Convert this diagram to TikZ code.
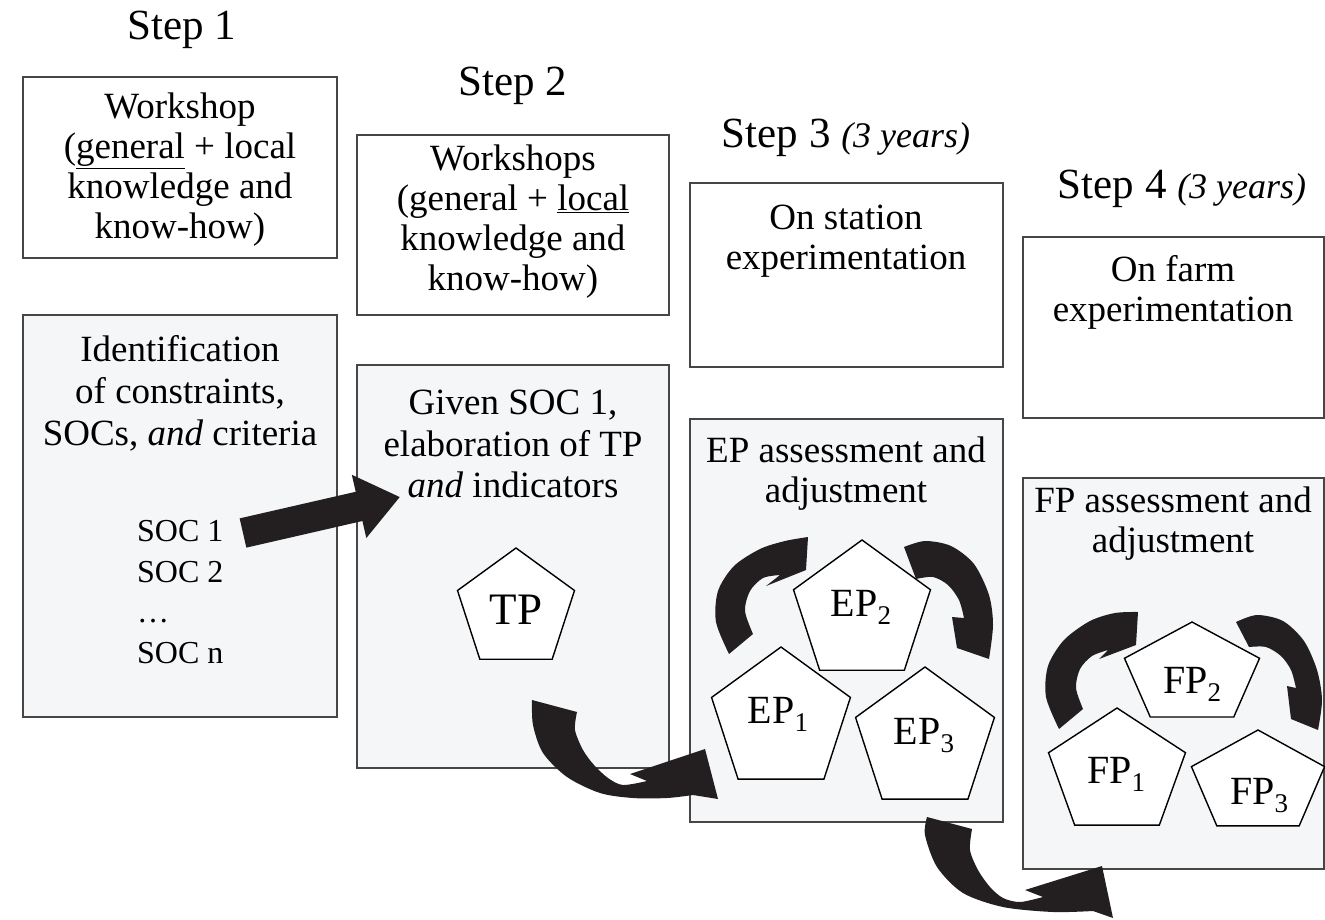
\documentclass[tikz,border=0pt]{standalone}
\usepackage{fontspec}
\setmainfont{Liberation Serif}
\usetikzlibrary{arrows.meta}
\definecolor{boxfill}{RGB}{244,246,248}
\definecolor{boxline}{RGB}{70,70,70}
\definecolor{arrowc}{RGB}{35,31,32}
\newcommand{\bodytext}{\fontsize{37}{40}\selectfont}
\newcommand{\titletext}{\fontsize{43}{48}\selectfont}
\newcommand{\soctext}{\fontsize{32}{40.5}\selectfont}
\newcommand{\lowsub}[1]{\raisebox{-8pt}{\fontsize{27}{27}\selectfont #1}}
\newcommand{\pentagon}[4]{%
  \draw[pent] (#1,#2-#4) -- (#1+0.951*#3,#2-0.309*#4) -- (#1+0.588*#3,#2+0.809*#4)
   -- (#1-0.588*#3,#2+0.809*#4) -- (#1-0.951*#3,#2-0.309*#4) -- cycle;}
\begin{document}
\begin{tikzpicture}[x=1pt,y=-1pt,
  box/.style={draw=boxline, line width=1.6pt, rectangle, inner sep=0pt},
  topbox/.style={box, fill=white},
  lowbox/.style={box, fill=boxfill},
  txt/.style={align=center, inner sep=0pt, font=\bodytext},
  title/.style={anchor=base, inner sep=0pt, font=\titletext},
  pent/.style={draw=black, line width=1.4pt, fill=white, line join=miter},
  plabel/.style={anchor=base, inner sep=0pt, font=\fontsize{40}{42}\selectfont},
  fat/.style={fill=arrowc}]
\fill[white] (0,0) rectangle (1325,919);
\useasboundingbox (0,0) rectangle (1325,919);

% titles
\node[title] (t1) at (182,39) {Step 1};
\node[title] (t2) at (513,95) {Step 2};
\node[title] (t3) at (846,147) {Step 3 {\fontsize{36}{40}\selectfont\itshape (3 years)}};
\node[title] (t4) at (1182,198) {Step 4 {\fontsize{36}{40}\selectfont\itshape (3 years)}};

% boxes
\node[topbox, minimum width=314pt, minimum height=181pt] (A1) at (180,167.5) {};
\node[lowbox, minimum width=314pt, minimum height=402pt] (A2) at (180,516) {};
\node[topbox, minimum width=312pt, minimum height=180pt] (B1) at (513,225) {};
\node[lowbox, minimum width=312pt, minimum height=403pt] (B2) at (513,566.5) {};
\node[topbox, minimum width=313pt, minimum height=184pt] (C1) at (846.5,275) {};
\node[lowbox, minimum width=313pt, minimum height=403pt] (C2) at (846.5,620.5) {};
\node[topbox, minimum width=301pt, minimum height=181pt] (D1) at (1173.5,327.5) {};
\node[lowbox, minimum width=301pt, minimum height=391pt] (D2) at (1173.5,673.5) {};

% box texts
\node[txt] (a1t) at (180,170) {Workshop\\(\underline{general} + local\\knowledge and\\know-how)};
\node[txt, font=\fontsize{37}{42}\selectfont] (a2t) at (180,393) {Identification\\of constraints,\\SOCs, \textit{and} criteria};
\node[align=left, anchor=west, inner sep=0pt, font=\soctext] (soc) at (137,592) {SOC 1\\SOC 2\\…\\SOC n};
\node[txt] (b1t) at (513,222) {Workshops\\(general + \underline{local}\\knowledge and\\know-how)};
\node[txt, font=\fontsize{37}{41.5}\selectfont] (b2t) at (513,444) {Given SOC 1,\\elaboration of TP\\\textit{and} indicators};
\node[txt] (c1t) at (846,241) {On station\\experimentation};
\node[txt] (c2t) at (846,474) {EP assessment and\\adjustment};
\node[txt] (d1t) at (1173,292) {On farm\\experimentation};
\node[txt] (d2t) at (1173,524) {FP assessment and\\adjustment};

% pentagons
\pentagon{516}{609.5}{61.5}{61.5}
\pentagon{862}{612}{72}{72}
\pentagon{781}{720}{73}{73}
\pentagon{925}{740}{73}{73}
\pentagon{1192}{674.5}{71}{52.5}
\pentagon{1117}{772.7}{72}{64.7}
\pentagon{1258}{783}{70}{53}
\node[plabel, font=\fontsize{45}{46}\selectfont] (TP) at (516,624) {TP};
\node[plabel] (EP2) at (861,616) {EP\lowsub{2}};
\node[plabel] (EP1) at (778,723) {EP\lowsub{1}};
\node[plabel] (EP3) at (924,744) {EP\lowsub{3}};
\node[plabel] (FP2) at (1192,693) {FP\lowsub{2}};
\node[plabel] (FP1) at (1116,783) {FP\lowsub{1}};
\node[plabel] (FP3) at (1259,804) {FP\lowsub{3}};

% straight fat arrow
\coordinate (s1) at (243,533);
\coordinate (s2) at (400,497);
\draw[arrowc, line width=30pt, -{Triangle[length=42pt,width=62pt]}] (s1) -- (s2);

% curved fat arrow B2 -> C2
\fill[fat] (532,700) -- plot[smooth] coordinates {(532,700) (533,725) (543,753) (567,777) (600,793) (633,798) (667,798) (693,795)}
  -- (718,799) -- (705,749) -- (630,774) -- (647,781)
  -- plot[smooth] coordinates {(647,781) (623,785) (608,778) (594,765) (583,750) (575,730) (577,712)} -- cycle;
% curved fat arrow C2 -> D2
\fill[fat] (927,817) -- plot[smooth] coordinates {(927,817) (925,835) (937,867) (963,893) (1003,907) (1053,912) (1093,911)}
  -- (1113,918) -- (1102,866) -- (1025,890) -- (1043,897)
  -- plot[smooth] coordinates {(1043,897) (1020,902) (1003,898) (990,887) (978,870) (970,850) (972,829)} -- cycle;
% C2 cycle arrows
\fill[fat] (729,654) -- plot[smooth] coordinates {(729,654) (716,622) (718,591) (734,566) (760,549) (785,541) (808,537)}
  -- (806,570) -- (766,586) -- (780,575)
  -- plot[smooth] coordinates {(780,575) (763,578) (750,591) (745,611) (753,634)} -- cycle;
\fill[fat] (904,547) -- plot[smooth] coordinates {(904,547) (925,541) (951,546) (974,564) (989,595) (993,625) (989,659)}
  -- (957,648) -- (952,617) -- (964,618)
  -- plot[smooth] coordinates {(964,618) (959,600) (948,585) (933,577) (916,579)} -- cycle;
% D2 cycle arrows
\fill[fat] (1059,729) -- plot[smooth] coordinates {(1059,729) (1046,697) (1048,666) (1064,640) (1090,621) (1115,613) (1138,612)}
  -- (1136,645) -- (1099,659) -- (1108,650)
  -- plot[smooth] coordinates {(1108,650) (1092,656) (1080,669) (1076,688) (1083,709)} -- cycle;
\fill[fat] (1236,622) -- plot[smooth] coordinates {(1236,622) (1257,615) (1283,621) (1304,641) (1317,670) (1322,700) (1318,730)}
  -- (1291,719) -- (1287,686) -- (1296,688)
  -- plot[smooth] coordinates {(1296,688) (1291,670) (1281,656) (1266,647) (1249,647)} -- cycle;
\end{tikzpicture}
\end{document}
